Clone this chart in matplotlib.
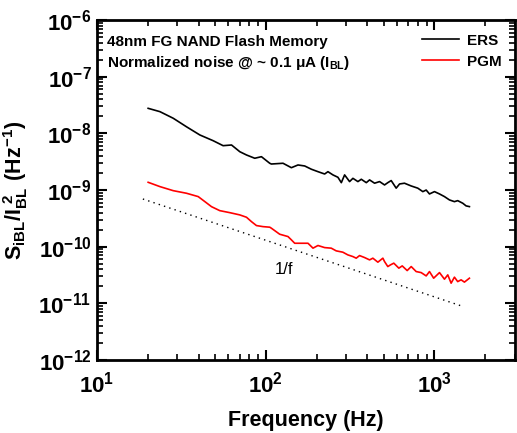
import matplotlib
matplotlib.use("Agg")
import matplotlib.pyplot as plt
from matplotlib.ticker import LogLocator, NullFormatter
import numpy as np

plt.rcParams['font.family'] = ['Liberation Sans', 'DejaVu Sans']
plt.rcParams['font.weight'] = 'bold'

# Spektrum szumu dla stanu skasowanego (ERS)
ers_freq = [20.1, 23.6, 28.3, 33.9, 40.7, 48.8, 55.9, 62.7, 70.2, 76.9, 86.1, 94.3,
            105.6, 108, 126.6, 141.9, 155.3, 170.2, 186.4, 204, 223.4, 233.7, 250.2,
            267.8, 280.5, 293.4, 314, 328.6, 351.8, 368.4, 394.4, 412.5, 441.6, 472.8,
            506, 529, 554, 593, 621, 664, 728, 796, 853, 893, 934, 1000, 1071, 1146,
            1227, 1313, 1373, 1471, 1540, 1611]
ers_psd = [2.77e-8, 2.42e-8, 1.85e-8, 1.31e-8, 9.38e-9, 7.43e-9, 6.07e-9, 6.24e-9,
           4.75e-9, 4.16e-9, 3.64e-9, 3.88e-9, 2.97e-9, 2.88e-9, 2.97e-9, 2.48e-9,
           2.77e-9, 2.66e-9, 2.33e-9, 2.11e-9, 1.92e-9, 2.11e-9, 1.85e-9, 1.68e-9,
           1.35e-9, 1.85e-9, 1.41e-9, 1.61e-9, 1.41e-9, 1.55e-9, 1.35e-9, 1.51e-9,
           1.32e-9, 1.41e-9, 1.23e-9, 1.35e-9, 1.47e-9, 1.08e-9, 1.28e-9, 1.32e-9,
           1.18e-9, 1.08e-9, 9.38e-10, 1.00e-9, 8.53e-10, 9.38e-10, 8.53e-10, 7.66e-10,
           6.69e-10, 6.24e-10, 6.50e-10, 5.85e-10, 5.25e-10, 5.10e-10]

# Spektrum szumu dla stanu zaprogramowanego (PGM)
pgm_freq = [20.1, 23.6, 28.3, 33.9, 39.8, 43.6, 47.7, 53.4, 61.2, 70.2, 76.9, 82.3,
            88.1, 96.4, 105.6, 108, 121, 135.5, 141.9, 148.5, 178, 190.6, 204, 223.4,
            244.5, 261.7, 286.3, 306.6, 328.6, 343.7, 359.8, 385.4, 412.5, 431.4, 461.9,
            494.5, 506, 529, 549, 574, 615, 644, 689, 728, 779, 834, 893, 934, 989,
            1071, 1146, 1199, 1255, 1313, 1373, 1438, 1505, 1611]
pgm_psd = [1.37e-9, 1.15e-9, 9.75e-10, 8.78e-10, 7.66e-10, 6.24e-10, 5.09e-10,
           4.33e-10, 3.99e-10, 3.64e-10, 3.31e-10, 2.77e-10, 2.36e-10, 2.26e-10,
           2.21e-10, 2.12e-10, 1.66e-10, 1.51e-10, 1.32e-10, 1.15e-10, 1.15e-10,
           9.42e-11, 1.05e-10, 9.64e-11, 9.42e-11, 8.44e-11, 8.00e-11, 7.17e-11,
           6.69e-11, 6.27e-11, 6.97e-11, 6.43e-11, 5.85e-11, 6.27e-11, 5.33e-11,
           6.27e-11, 5.46e-11, 4.46e-11, 4.78e-11, 5.12e-11, 4.18e-11, 4.58e-11,
           3.79e-11, 4.46e-11, 3.64e-11, 3.49e-11, 3.05e-11, 3.64e-11, 2.78e-11,
           3.49e-11, 2.67e-11, 3.18e-11, 2.27e-11, 2.90e-11, 2.42e-11, 2.60e-11,
           2.37e-11, 2.78e-11]

# Linia odniesienia 1/f
ref_freq = [18.7, 1470]
ref_psd = [6.95e-10, 8.84e-12]

fig = plt.figure(figsize=(5.17, 4.33), dpi=100)
ax = fig.add_axes([0.1876, 0.1686, 0.8085, 0.785])

ax.plot(ers_freq, ers_psd, color='black', lw=1.2, label='ERS')
ax.plot(pgm_freq, pgm_psd, color='red', lw=1.2, label='PGM')
ax.plot(ref_freq, ref_psd, color='black', lw=1.0, linestyle=(0, (1, 3)))

ax.set_xscale('log')
ax.set_yscale('log')
ax.set_xlim(10, 3000)
ax.set_ylim(1e-12, 1e-6)

for axis in (ax.xaxis, ax.yaxis):
    axis.set_major_locator(LogLocator(base=10, numticks=20))
    axis.set_minor_locator(LogLocator(base=10, subs=np.arange(2, 10), numticks=20))
    axis.set_minor_formatter(NullFormatter())

ax.tick_params(which='both', direction='in', top=True, right=True, labelsize=16)
ax.tick_params(which='major', length=7, width=1.5)
ax.tick_params(which='minor', length=4, width=1.2)
ax.tick_params(axis='x', pad=8)
ax.tick_params(axis='y', pad=4)
for sp in ax.spines.values():
    sp.set_linewidth(2)

ax.set_xlabel('Frequency (Hz)', fontsize=15.5, fontweight='bold', labelpad=9)
ax.set_ylabel(r'$\mathdefault{S_{iBL}/I_{BL}^{\ 2}\ (Hz^{-1})}$', fontsize=15.5,
              fontweight='bold', labelpad=6)

ax.text(0.024, 0.935, '48nm FG NAND Flash Memory', transform=ax.transAxes,
        fontsize=11, fontweight='bold', ha='left', va='center')
ax.text(0.024, 0.873, r'Normalized noise @ ~ 0.1 μA ($\mathdefault{I_{BL}}$)',
        transform=ax.transAxes, fontsize=11, fontweight='bold', ha='left', va='center')
ax.text(129, 3.9e-11, '1/f', fontsize=12, fontweight='normal', ha='center', va='center')

ax.legend(loc='upper right', frameon=False, fontsize=11, handlelength=2.4,
          handletextpad=0.5, labelspacing=0.45)

fig.savefig('out.png', dpi=100)
